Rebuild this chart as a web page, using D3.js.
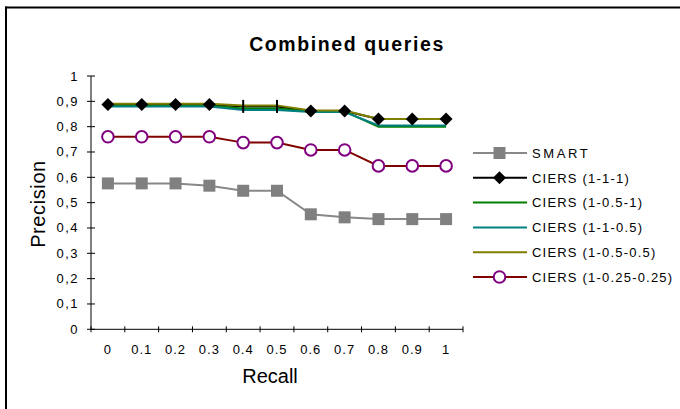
<!DOCTYPE html>
<html>
<head>
<meta charset="utf-8">
<script src="https://cdn.jsdelivr.net/npm/d3@7"></script>
<style>
  html, body { margin: 0; padding: 0; background: #fff; }
  svg { display: block; font-family: "Liberation Sans", Arial, sans-serif; }
</style>
</head>
<body>
<svg id="chart" width="680" height="409"></svg>
<script>
// Recall levels (category axis)
const recall = ["0", "0.1", "0.2", "0.3", "0.4", "0.5", "0.6", "0.7", "0.8", "0.9", "1"];

// Precision values per run
const smart      = [0.576, 0.576, 0.576, 0.567, 0.547, 0.547, 0.454, 0.442, 0.435, 0.435, 0.435];
const ciers111   = [0.887, 0.887, 0.887, 0.887, 0.880, 0.880, 0.862, 0.862, 0.830, 0.830, 0.830];
const ciers1051  = [0.883, 0.883, 0.883, 0.883, 0.872, 0.872, 0.860, 0.860, 0.800, 0.800, 0.800];
const ciers1105  = [0.880, 0.880, 0.880, 0.880, 0.866, 0.866, 0.858, 0.858, 0.805, 0.805, 0.805];
const ciers10505 = [0.890, 0.890, 0.890, 0.890, 0.884, 0.884, 0.864, 0.864, 0.830, 0.830, 0.830];
const ciers1025  = [0.760, 0.760, 0.760, 0.760, 0.737, 0.737, 0.708, 0.708, 0.645, 0.645, 0.645];

const seriesNames = ["SMART", "CIERS (1-1-1)", "CIERS (1-0.5-1)", "CIERS (1-1-0.5)", "CIERS (1-0.5-0.5)", "CIERS (1-0.25-0.25)"];
const yTicks = [0, 0.1, 0.2, 0.3, 0.4, 0.5, 0.6, 0.7, 0.8, 0.9, 1];

const series = [
  { name: seriesNames[0], values: smart,      line: "#888888", marker: "square",  mfill: "#808080", mstroke: "#808080" },
  { name: seriesNames[1], values: ciers111,   line: "#000000", marker: "diamond", mfill: "#000000", mstroke: "#000000", bars: [4, 5] },
  { name: seriesNames[2], values: ciers1051,  line: "#008000", marker: null },
  { name: seriesNames[3], values: ciers1105,  line: "#008080", marker: null },
  { name: seriesNames[4], values: ciers10505, line: "#808000", marker: null },
  { name: seriesNames[5], values: ciers1025,  line: "#800000", marker: "circle",  mfill: "#ffffff", mstroke: "#800080" }
];

const svg = d3.select("#chart");

// Outer frame (top and left edges)
svg.append("line").attr("x1", 5).attr("x2", 680).attr("y1", 7.5).attr("y2", 7.5)
  .attr("stroke", "#000").attr("stroke-width", 2);
svg.append("line").attr("x1", 6).attr("x2", 6).attr("y1", 6.5).attr("y2", 409)
  .attr("stroke", "#000").attr("stroke-width", 2);

const x = d3.scaleBand().domain(recall).range([91, 463]).padding(0);
const y = d3.scaleLinear().domain([0, 1]).range([329.3, 76]);
const cx = d => x(d) + x.bandwidth() / 2;

// Title
svg.append("text").attr("x", 347).attr("y", 51).attr("text-anchor", "middle")
  .attr("font-size", 19.5).attr("font-weight", "bold").attr("letter-spacing", 1.6)
  .text("Combined queries");

// Y axis
const yAxis = svg.append("g");
yAxis.append("line").attr("x1", 91).attr("x2", 91).attr("y1", y(1)).attr("y2", y(0))
  .attr("stroke", "#000").attr("stroke-width", 1);
yAxis.selectAll("line.tick").data(yTicks).join("line").attr("class", "tick")
  .attr("x1", 87).attr("x2", 95).attr("y1", d => y(d)).attr("y2", d => y(d))
  .attr("stroke", "#000").attr("stroke-width", 1);
yAxis.selectAll("text").data(yTicks).join("text")
  .attr("x", 79).attr("y", d => y(d) + 4.5).attr("text-anchor", "end")
  .attr("font-size", 13).attr("letter-spacing", 1.5)
  .text(d => (d === 0 || d === 1) ? String(d) : d3.format(".1f")(d).replace(".", ","));

// X axis with ticks on category boundaries
const xAxis = svg.append("g");
xAxis.append("line").attr("x1", 91).attr("x2", 463).attr("y1", y(0)).attr("y2", y(0))
  .attr("stroke", "#000").attr("stroke-width", 1);
const edges = recall.map(d => x(d)).concat([x.range()[1]]);
xAxis.selectAll("line.tick").data(edges).join("line").attr("class", "tick")
  .attr("x1", d => d).attr("x2", d => d).attr("y1", y(0) - 3).attr("y2", y(0) + 3)
  .attr("stroke", "#000").attr("stroke-width", 1);
xAxis.selectAll("text").data(recall).join("text")
  .attr("x", d => cx(d)).attr("y", 354).attr("text-anchor", "middle")
  .attr("font-size", 13).attr("letter-spacing", 1)
  .text(d => d);

// Axis titles
svg.append("text").attr("x", 270).attr("y", 383).attr("text-anchor", "middle")
  .attr("font-size", 20).text("Recall");
svg.append("text").attr("transform", "translate(45,204) rotate(-90)").attr("text-anchor", "middle")
  .attr("font-size", 20).attr("letter-spacing", 0.6).text("Precision");

// Lines
const line = d3.line().x((v, i) => cx(recall[i])).y(v => y(v));
series.forEach(s => {
  svg.append("path").attr("d", line(s.values)).attr("fill", "none")
    .attr("stroke", s.line).attr("stroke-width", 2);
});

function drawMarker(g, type, px, py, fill, stroke) {
  if (type === "square") {
    g.append("rect").attr("x", px - 6).attr("y", py - 6).attr("width", 12).attr("height", 12)
      .attr("fill", fill);
  } else if (type === "diamond") {
    g.append("path").attr("d", `M${px},${py - 6.5}L${px + 6.5},${py}L${px},${py + 6.5}L${px - 6.5},${py}Z`)
      .attr("fill", fill);
  } else if (type === "circle") {
    g.append("circle").attr("cx", px).attr("cy", py).attr("r", 5.8)
      .attr("fill", fill).attr("stroke", stroke).attr("stroke-width", 2);
  } else if (type === "bar") {
    g.append("rect").attr("x", px - 1).attr("y", py - 6.5).attr("width", 2).attr("height", 13)
      .attr("fill", fill);
  }
}

// Markers
const markers = svg.append("g");
series.forEach(s => {
  if (!s.marker) return;
  s.values.forEach((v, i) => {
    const type = (s.bars && s.bars.includes(i)) ? "bar" : s.marker;
    drawMarker(markers, type, cx(recall[i]), y(v), s.mfill, s.mstroke);
  });
});

// Legend
const legend = svg.append("g");
const legendY0 = 153, legendStep = 24.8;
series.forEach((s, i) => {
  const ly = legendY0 + i * legendStep;
  legend.append("line").attr("x1", 473).attr("x2", 527).attr("y1", ly).attr("y2", ly)
    .attr("stroke", s.line).attr("stroke-width", 2);
  if (s.marker) drawMarker(legend, s.marker, 499.5, ly, s.mfill, s.mstroke);
  legend.append("text").attr("x", 532).attr("y", ly + 4.7)
    .attr("font-size", 13).attr("letter-spacing", i === 0 ? 2.6 : 1.2)
    .text(s.name);
});
</script>
</body>
</html>
